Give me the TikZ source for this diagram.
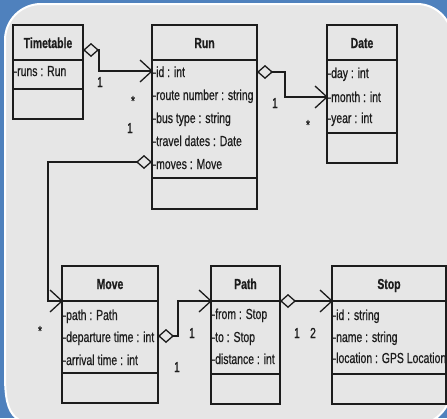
\documentclass[tikz,border=0pt]{standalone}
\usepackage{fontspec}
\setmainfont{Liberation Sans}
\newfontfamily\narrow[FakeStretch=0.72,FakeBold=0.6]{Liberation Sans}
\usetikzlibrary{arrows.meta}
\definecolor{bgblue}{HTML}{4F81BD}
\definecolor{panel}{HTML}{E6E6E6}
\definecolor{ink}{HTML}{1C1C1C}
\tikzset{
  umlbox/.style={draw=ink, line width=1.5pt, rectangle, inner sep=0pt, outer sep=0pt, anchor=north west},
  ttl/.style={font=\narrow\bfseries\fontsize{14.5}{16}\selectfont, text=ink, inner sep=0pt, anchor=base},
  attr/.style={font=\narrow\fontsize{14.5}{16}\selectfont, text=ink, inner sep=0pt, anchor=base west},
  mult/.style={font=\narrow\fontsize{14.5}{16}\selectfont, text=ink, inner sep=0pt, anchor=base},
  sepline/.style={draw=ink, line width=1.5pt},
  assoc/.style={draw=ink, line width=1.1pt,
    {Diamond[open,length=16pt,width=14pt,line width=1.3pt]}-},
  barb/.style={draw=ink, line width=1.3pt, line join=miter},
}
\begin{document}
\begin{tikzpicture}[x=1pt,y=-1pt]
\useasboundingbox (0,0) rectangle (447,418);
% background
\fill[bgblue] (0,0) rectangle (447,418);
\draw[white, line width=2pt, fill=panel]
  (5,40) .. controls (5,20.1) and (21.1,4) .. (41,4)
  -- (417,4) .. controls (436.3,4) and (452,19.7) .. (452,39)
  -- (452,386) .. controls (452,408.1) and (434.1,426) .. (412,426)
  -- (60,426) .. controls (15,426) and (5,420) .. (5,375) -- cycle;

% boxes
\node[umlbox, minimum width=70pt, minimum height=94pt] (tt) at (13,25) {};
\node[umlbox, minimum width=105pt, minimum height=184pt] (run) at (152,25) {};
\node[umlbox, minimum width=70pt, minimum height=138pt] (date) at (327,25) {};
\node[umlbox, minimum width=96pt, minimum height=137pt] (move) at (62,266) {};
\node[umlbox, minimum width=69pt, minimum height=138pt] (path) at (211,266) {};
\node[umlbox, minimum width=114pt, minimum height=138pt] (stop) at (332,266) {};

% separators
\draw[sepline] (tt.west |- 0,60) -- (tt.east |- 0,60);
\draw[sepline] (tt.west |- 0,89) -- (tt.east |- 0,89);
\draw[sepline] (run.west |- 0,60) -- (run.east |- 0,60);
\draw[sepline] (run.west |- 0,178) -- (run.east |- 0,178);
\draw[sepline] (date.west |- 0,60) -- (date.east |- 0,60);
\draw[sepline] (date.west |- 0,133) -- (date.east |- 0,133);
\draw[sepline] (move.west |- 0,301) -- (move.east |- 0,301);
\draw[sepline] (move.west |- 0,373) -- (move.east |- 0,373);
\draw[sepline] (path.west |- 0,301) -- (path.east |- 0,301);
\draw[sepline] (path.west |- 0,374) -- (path.east |- 0,374);
\draw[sepline] (stop.west |- 0,301) -- (stop.east |- 0,301);
\draw[sepline] (stop.west |- 0,374) -- (stop.east |- 0,374);

% titles
\node[ttl] (ttT) at (48,48) {Timetable};
\node[ttl] (runT) at (204.5,48) {Run};
\node[ttl] (dateT) at (362,48) {Date};
\node[ttl] (moveT) at (110,289) {Move};
\node[ttl] (pathT) at (245.5,289) {Path};
\node[ttl] (stopT) at (389,289) {Stop};

% attributes
\node[attr] (a1) at (13.5,76) {-runs : Run};
\node[attr] (r1) at (152.5,77) {-id : int};
\node[attr] (r2) at (152.5,100) {-route number : string};
\node[attr] (r3) at (152.5,123) {-bus type : string};
\node[attr] (r4) at (152.5,146) {-travel dates : Date};
\node[attr] (r5) at (152.5,169) {-moves : Move};
\node[attr] (d1) at (327.5,78) {-day : int};
\node[attr] (d2) at (327.5,102) {-month : int};
\node[attr] (d3) at (327.5,123) {-year : int};
\node[attr] (m1) at (62.5,320) {-path : Path};
\node[attr] (m2) at (62.5,342) {-departure time : int};
\node[attr] (m3) at (62.5,365) {-arrival time : int};
\node[attr] (p1) at (211.5,319) {-from : Stop};
\node[attr] (p2) at (211.5,342) {-to : Stop};
\node[attr] (p3) at (211.5,364) {-distance : int};
\node[attr] (s1) at (332.5,320) {-id : string};
\node[attr] (s2) at (332.5,342) {-name : string};
\node[attr] (s3) at (332.5,363) {-location : GPS Location};

% arrow tip points
\coordinate (tipA) at (run.west |- 0,71);
\coordinate (tipB) at (date.west |- 0,97);
\coordinate (tipC) at (move.west |- 0,301);
\coordinate (tipD) at (path.west |- 0,301);
\coordinate (tipE) at (stop.west |- 0,301);

% associations
\draw[assoc] (tt.east |- 0,50) -- (99,50) |- (tipA);
\draw[assoc] (run.east |- 0,72) -- (285,72) |- (tipB);
\draw[assoc] (run.west |- 0,162) -- (48,162) |- (tipC);
\draw[assoc] (move.east |- 0,336) -- (178,336) |- (tipD);
\draw[assoc] (path.east |- 0,301) -- (tipE);

% open arrowheads
\foreach \t in {tipA,tipB,tipC,tipD,tipE}
  \draw[barb] ([shift={(-12,-11)}]\t) -- (\t) -- ([shift={(-12,11)}]\t);

% multiplicities
\node[mult] (l1) at (100,87) {1};
\node[mult] (l2) at (133,106) {*};
\node[mult] (l3) at (130,133) {1};
\node[mult] (l4) at (275,108) {1};
\node[mult] (l5) at (308,130) {*};
\node[mult] (l6) at (40,336) {*};
\node[mult] (l7) at (192,338) {1};
\node[mult] (l8) at (177,372) {1};
\node[mult] (l9) at (297,338) {1};
\node[mult] (l10) at (313,338) {2};
\end{tikzpicture}
\end{document}
